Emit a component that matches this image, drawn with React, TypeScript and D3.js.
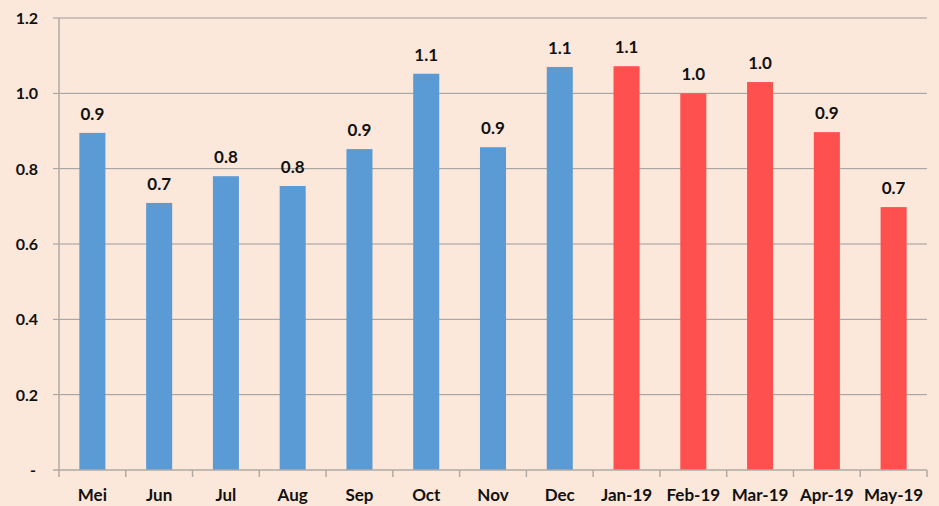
import React, { useEffect, useRef } from 'react';
import * as d3 from 'd3';

const months = ['Mei', 'Jun', 'Jul', 'Aug', 'Sep', 'Oct', 'Nov', 'Dec', 'Jan-19', 'Feb-19', 'Mar-19', 'Apr-19', 'May-19'];
const values = [0.895, 0.709, 0.78, 0.754, 0.852, 1.052, 0.857, 1.07, 1.072, 1.0, 1.03, 0.897, 0.698];
const highlighted = ['Jan-19', 'Feb-19', 'Mar-19', 'Apr-19', 'May-19'];
const yTicks = [0, 0.2, 0.4, 0.6, 0.8, 1.0, 1.2];

export default function App() {
    const ref = useRef<SVGSVGElement>(null);
    const width = 939;
    const height = 506;
    const margin = { top: 18, right: 12, bottom: 36, left: 59 };
    const font = 'Lato, "Open Sans", sans-serif';

    useEffect(() => {
        const svg = d3.select(ref.current);
        svg.selectAll('*').remove();

        svg.append('rect')
            .attr('width', width)
            .attr('height', height)
            .attr('fill', '#FCE8DA');

        const x = d3.scaleBand()
            .domain(months)
            .range([margin.left, width - margin.right])
            .paddingInner(0.61)
            .paddingOuter(0.305);
        const y = d3.scaleLinear()
            .domain([0, 1.2])
            .range([height - margin.bottom, margin.top]);

        // gridlines
        svg.append('g')
            .selectAll('line')
            .data(yTicks.slice(1))
            .enter().append('line')
            .attr('x1', margin.left - 6)
            .attr('x2', width - margin.right)
            .attr('y1', d => y(d))
            .attr('y2', d => y(d))
            .attr('stroke', '#9a9a9a')
            .attr('stroke-width', 1);

        // y tick labels
        svg.append('g')
            .selectAll('text')
            .data(yTicks)
            .enter().append('text')
            .attr('x', d => d === 0 ? 36 : 38)
            .attr('y', d => y(d) + 6)
            .attr('text-anchor', 'end')
            .style('font-family', font)
            .style('font-weight', 'bold')
            .style('font-size', '16px')
            .attr('fill', '#111')
            .text(d => d === 0 ? '-' : d.toFixed(1));

        // bars
        svg.append('g')
            .selectAll('rect')
            .data(values)
            .enter().append('rect')
            .attr('x', (d, i) => x(months[i]) as number)
            .attr('y', d => y(d))
            .attr('width', x.bandwidth())
            .attr('height', d => y(0) - y(d))
            .attr('fill', (d, i) => highlighted.includes(months[i]) ? '#FF5050' : '#5B9BD5');

        // value labels
        svg.append('g')
            .selectAll('text')
            .data(values)
            .enter().append('text')
            .attr('x', (d, i) => (x(months[i]) as number) + x.bandwidth() / 2)
            .attr('y', d => y(d) - 13)
            .attr('text-anchor', 'middle')
            .style('font-family', font)
            .style('font-weight', 'bold')
            .style('font-size', '17px')
            .attr('fill', '#111')
            .text(d => d.toFixed(1));

        // axes lines
        const axisColor = '#b0aaa6';
        svg.append('line')
            .attr('x1', margin.left).attr('x2', margin.left)
            .attr('y1', margin.top).attr('y2', y(0))
            .attr('stroke', axisColor).attr('stroke-width', 1.5);
        svg.append('line')
            .attr('x1', margin.left - 6).attr('x2', width - margin.right)
            .attr('y1', y(0)).attr('y2', y(0))
            .attr('stroke', axisColor).attr('stroke-width', 1.5);

        // category ticks
        const step = x.step();
        const tickXs = d3.range(months.length + 1).map(i => margin.left + i * step);
        svg.append('g')
            .selectAll('line')
            .data(tickXs)
            .enter().append('line')
            .attr('x1', d => d).attr('x2', d => d)
            .attr('y1', y(0)).attr('y2', y(0) + 7)
            .attr('stroke', axisColor).attr('stroke-width', 1.5);

        // x labels
        svg.append('g')
            .selectAll('text')
            .data(months)
            .enter().append('text')
            .attr('x', d => (x(d) as number) + x.bandwidth() / 2)
            .attr('y', height - 5)
            .attr('text-anchor', 'middle')
            .style('font-family', font)
            .style('font-weight', 'bold')
            .style('font-size', '17px')
            .attr('fill', '#111')
            .text(d => d);
    }, []);

    return (
        <div style={{ position: 'absolute', left: 0, top: 0 }}>
            <svg ref={ref} width={width} height={height} style={{ display: 'block' }}></svg>
        </div>
    );
}
